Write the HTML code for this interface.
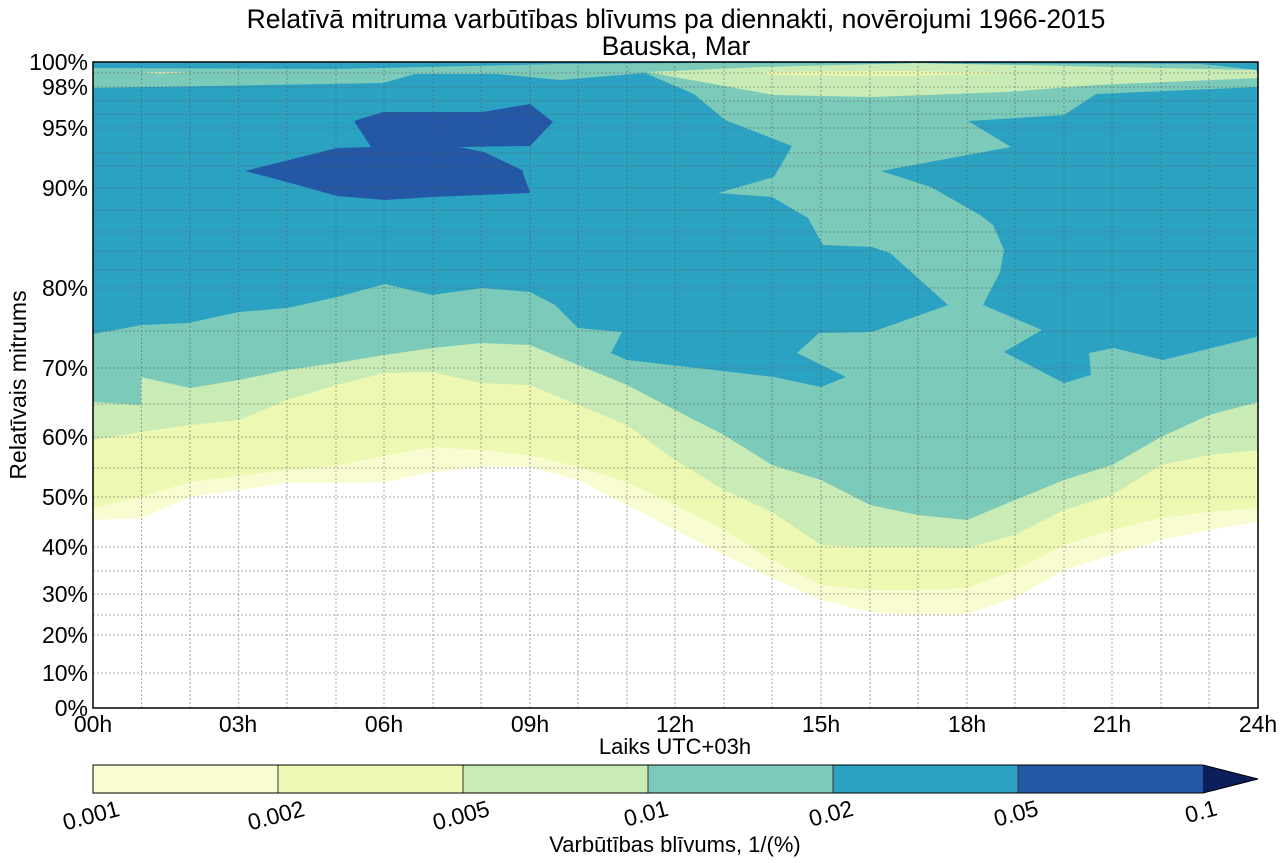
<!DOCTYPE html>
<html><head><meta charset="utf-8"><style>
html,body{margin:0;padding:0;background:#fff;}
svg{display:block;font-family:"Liberation Sans",Arial,sans-serif;}
</style></head><body>
<svg width="1284" height="863" viewBox="0 0 1284 863" xmlns="http://www.w3.org/2000/svg">
<rect width="1284" height="863" fill="#fff"/>
<text x="676" y="28" font-size="26.5" text-anchor="middle">Relatīvā mitruma varbūtības blīvums pa diennakti, novērojumi 1966-2015</text>
<text x="676" y="55" font-size="26.5" text-anchor="middle">Bauska, Mar</text>
<defs><clipPath id="pc"><rect x="93" y="62" width="1165" height="646"/></clipPath></defs>
<g clip-path="url(#pc)">
<polygon fill="#f9fcd0" points="93,62 93,520 141,518 190,497 239,490 287,483 336,483 384,482 433,472 481,467 530,467 578,480 627,505 675,530 724,555 772,578 821,600 870,612 918,615 967,614 1015,598 1064,570 1112,555 1161,540 1209,530 1258,522 1258,62"/>
<polygon fill="#edf8b2" points="93,62 93,508 141,497 190,482 239,476 287,470 336,466 384,456 433,447 481,450 530,455 578,467 627,482 675,505 724,530 772,560 821,585 870,590 918,590 967,588 1015,570 1064,545 1112,530 1161,518 1209,512 1258,508 1258,62"/>
<polygon fill="#c9ebb5" points="93,62 93,440 141,432 190,425 239,420 287,400 336,385 384,373 433,372 481,383 530,385 578,405 627,425 675,460 724,490 772,512 821,545 870,547 918,547 967,548 1015,535 1064,510 1112,495 1161,465 1209,455 1258,450 1258,62"/>
<polygon fill="#7ccab9" points="93,62 93,402 141,405 141,377 190,388 239,380 287,370 336,363 384,355 433,348 481,343 530,345 578,365 627,385 675,410 724,435 772,465 821,480 870,505 918,515 967,520 1015,500 1064,480 1112,465 1161,437 1209,415 1258,402 1258,62"/>
<polygon fill="#2ca2c3" points="93,88 383,83 415,74 497,74 560,80 645,73 694,94 725,120 792,146 774,177 718,193 772,197 808,218 823,245 872,247 890,253 948,305 872,332 819,333 797,353 846,377 821,387 774,377 627,360 611,353 622,332 578,328 555,305 530,292 482,288 432,295 385,284 337,297 287,308 239,312 188,323 142,325 93,334"/>
<polygon fill="#2ca2c3" points="1258,87 1096,94 1064,115 968,121 1011,147 881,171 931,187 980,215 993,225 1004,250 1000,272 983,305 1042,330 1004,352 1064,383 1091,375 1089,353 1114,348 1163,360 1256,337 1258,335"/>
<polygon fill="#2ca2c3" points="93,62 93,68 333,69 560,64 700,63 1258,64 1258,62"/>
<polygon fill="#2ca2c3" points="1180,62 1258,62 1258,70 1220,66"/>
<polygon fill="#c9ebb5" points="647,72 761,67 917,63 1256,70 1258,78 1096,85 1006,92 872,97 774,95"/>
<polygon fill="#edf8b2" points="761,72 900,71 1029,73 900,76 770,75"/>
<polygon fill="#c9ebb5" points="140,72 190,72 160,74"/>
<polygon fill="#2358a6" points="245,171 337,148 371,147 354,121 383,112 482,112 530,104 553,122 530,146 459,147 484,152 522,170 530,193 432,197 385,200 337,196 287,182"/>
</g>
<g stroke="#555" stroke-width="1" stroke-dasharray="2,2" opacity="0.5">
<line x1="141.5" y1="62" x2="141.5" y2="708"/><line x1="190" y1="62" x2="190" y2="708"/><line x1="238.6" y1="62" x2="238.6" y2="708"/><line x1="287" y1="62" x2="287" y2="708"/><line x1="336" y1="62" x2="336" y2="708"/><line x1="384" y1="62" x2="384" y2="708"/><line x1="433" y1="62" x2="433" y2="708"/><line x1="481" y1="62" x2="481" y2="708"/><line x1="530" y1="62" x2="530" y2="708"/><line x1="578" y1="62" x2="578" y2="708"/><line x1="627" y1="62" x2="627" y2="708"/><line x1="675" y1="62" x2="675" y2="708"/><line x1="724" y1="62" x2="724" y2="708"/><line x1="772" y1="62" x2="772" y2="708"/><line x1="821" y1="62" x2="821" y2="708"/><line x1="870" y1="62" x2="870" y2="708"/><line x1="918" y1="62" x2="918" y2="708"/><line x1="967" y1="62" x2="967" y2="708"/><line x1="1015" y1="62" x2="1015" y2="708"/><line x1="1064" y1="62" x2="1064" y2="708"/><line x1="1112" y1="62" x2="1112" y2="708"/><line x1="1161" y1="62" x2="1161" y2="708"/><line x1="1209" y1="62" x2="1209" y2="708"/>
<line x1="93" y1="73" x2="1258" y2="73"/><line x1="93" y1="87" x2="1258" y2="87"/><line x1="93" y1="101" x2="1258" y2="101"/><line x1="93" y1="114" x2="1258" y2="114"/><line x1="93" y1="128" x2="1258" y2="128"/><line x1="93" y1="153" x2="1258" y2="153"/><line x1="93" y1="166" x2="1258" y2="166"/><line x1="93" y1="188" x2="1258" y2="188"/><line x1="93" y1="210" x2="1258" y2="210"/><line x1="93" y1="232" x2="1258" y2="232"/><line x1="93" y1="251" x2="1258" y2="251"/><line x1="93" y1="270" x2="1258" y2="270"/><line x1="93" y1="288" x2="1258" y2="288"/><line x1="93" y1="331" x2="1258" y2="331"/><line x1="93" y1="368" x2="1258" y2="368"/><line x1="93" y1="404" x2="1258" y2="404"/><line x1="93" y1="437" x2="1258" y2="437"/><line x1="93" y1="468" x2="1258" y2="468"/><line x1="93" y1="497" x2="1258" y2="497"/><line x1="93" y1="547" x2="1258" y2="547"/><line x1="93" y1="571" x2="1258" y2="571"/><line x1="93" y1="594" x2="1258" y2="594"/><line x1="93" y1="615" x2="1258" y2="615"/><line x1="93" y1="635" x2="1258" y2="635"/><line x1="93" y1="673" x2="1258" y2="673"/>
</g>
<rect x="93" y="62" width="1165" height="646" fill="none" stroke="#000" stroke-width="1.5"/>
<g font-size="23" text-anchor="end">
<text x="88" y="70">100%</text><text x="88" y="95">98%</text><text x="88" y="136">95%</text><text x="88" y="196">90%</text><text x="88" y="296">80%</text><text x="88" y="376">70%</text><text x="88" y="445">60%</text><text x="88" y="505">50%</text><text x="88" y="555">40%</text><text x="88" y="602">30%</text><text x="88" y="643">20%</text><text x="88" y="681">10%</text><text x="88" y="716">0%</text>
</g>
<g font-size="23" text-anchor="middle">
<text x="93" y="732">00h</text><text x="238" y="732">03h</text><text x="384" y="732">06h</text><text x="530" y="732">09h</text><text x="675" y="732">12h</text><text x="821" y="732">15h</text><text x="967" y="732">18h</text><text x="1112" y="732">21h</text><text x="1258" y="732">24h</text>
</g>
<text x="675" y="754" font-size="22" text-anchor="middle">Laiks UTC+03h</text>
<text transform="translate(26,385) rotate(-90)" font-size="23" text-anchor="middle">Relatīvais mitrums</text>
<rect x="93" y="765" width="185" height="28" fill="#f9fcd0"/>
<rect x="278" y="765" width="185" height="28" fill="#edf8b2"/>
<rect x="463" y="765" width="185" height="28" fill="#c9ebb5"/>
<rect x="648" y="765" width="185" height="28" fill="#7ccab9"/>
<rect x="833" y="765" width="185" height="28" fill="#2ca2c3"/>
<rect x="1018" y="765" width="185" height="28" fill="#2358a6"/>
<polygon points="1203,765 1258,779 1203,793" fill="#0c1f5c"/>
<g stroke="#333" stroke-width="1"><line x1="278" y1="765" x2="278" y2="793"/><line x1="463" y1="765" x2="463" y2="793"/><line x1="648" y1="765" x2="648" y2="793"/><line x1="833" y1="765" x2="833" y2="793"/><line x1="1018" y1="765" x2="1018" y2="793"/></g>
<polygon points="93,765 1203,765 1258,779 1203,793 93,793" fill="none" stroke="#000" stroke-width="1"/>
<g font-size="23" text-anchor="middle">
<text transform="translate(93,823) rotate(-15)">0.001</text>
<text transform="translate(278,823) rotate(-15)">0.002</text>
<text transform="translate(463,823) rotate(-15)">0.005</text>
<text transform="translate(648,821) rotate(-15)">0.01</text>
<text transform="translate(833,821) rotate(-15)">0.02</text>
<text transform="translate(1018,821) rotate(-15)">0.05</text>
<text transform="translate(1203,819) rotate(-15)">0.1</text>
</g>
<text x="675" y="852" font-size="22" text-anchor="middle">Varbūtības blīvums, 1/(%)</text>
</svg>
</body></html>
